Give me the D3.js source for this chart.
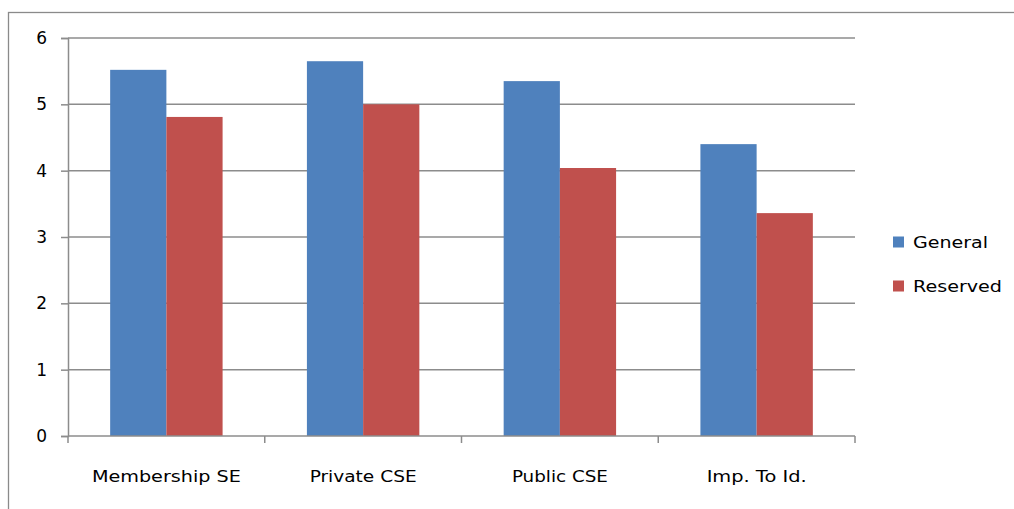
<!DOCTYPE html>
<html><head><meta charset="utf-8">
<script src="https://cdn.jsdelivr.net/npm/d3@7"></script>
<style>body{margin:0;background:#fff}svg{display:block}text{font-family:"DejaVu Sans",sans-serif;fill:#000}</style>
</head><body><svg id="c" width="1014" height="509"></svg>
<script>
const categories = ["Membership SE", "Private CSE", "Public CSE", "Imp. To Id."];
const seriesNames = ["General", "Reserved"];
const general = [5.52, 5.65, 5.35, 4.40];
const reserved = [4.81, 5.00, 4.04, 3.36];
const yTicks = [0, 1, 2, 3, 4, 5, 6];
const colors = ["#4F81BD", "#C0504D"];
const labelWidths = [149, 107, 96, 100];

const svg = d3.select("#c");
// outer frame
svg.append("rect").attr("x", 8.5).attr("y", 12.5).attr("width", 1020).attr("height", 520)
  .attr("fill", "none").attr("stroke", "#8a8a8a").attr("stroke-width", 1.3);

const L = 68, R = 855, T = 38, B = 436;
const x0 = d3.scaleBand().domain(categories).range([L, R]).paddingInner(0).paddingOuter(0);
const bw = x0.bandwidth();
const groupW = bw * 2 / 3.5;
const x1 = d3.scaleBand().domain(seriesNames).range([(bw - groupW) / 2, (bw + groupW) / 2]);
const y = d3.scaleLinear().domain([0, 6]).range([B, T]);

// gridlines
svg.append("g").selectAll("line").data(yTicks.filter(d => d > 0)).join("line")
  .attr("x1", L).attr("x2", R).attr("y1", d => y(d)).attr("y2", d => y(d))
  .attr("stroke", "#8c8c8c").attr("stroke-width", 1.5);

// bars
const data = categories.map((c, i) => ({c, vals: [general[i], reserved[i]]}));
const g = svg.append("g").selectAll("g").data(data).join("g")
  .attr("transform", d => `translate(${x0(d.c)},0)`);
g.selectAll("rect").data(d => d.vals.map((v, j) => ({s: seriesNames[j], v, j}))).join("rect")
  .attr("x", d => x1(d.s)).attr("width", x1.bandwidth())
  .attr("y", d => y(d.v)).attr("height", d => B - y(d.v))
  .attr("fill", d => colors[d.j]);

// y axis
const yAxis = d3.axisLeft(y).tickValues(yTicks).tickSize(7).tickPadding(14).tickFormat(d3.format("d"));
const ya = svg.append("g").attr("transform", `translate(${L},0)`).call(yAxis);
ya.select(".domain").attr("stroke", "#8c8c8c").attr("stroke-width", 1.5);
ya.selectAll(".tick line").attr("stroke", "#8c8c8c").attr("stroke-width", 1.5);
ya.selectAll(".tick text").attr("font-size", 17).attr("font-family", "DejaVu Sans").attr("fill", "#000");

// x axis
const xa = svg.append("g").attr("transform", `translate(0,${B})`);
xa.append("line").attr("x1", L).attr("x2", R).attr("stroke", "#8c8c8c").attr("stroke-width", 1.5);
const bounds = categories.map(c => x0(c)).concat([R]);
xa.selectAll("line.t").data(bounds).join("line").attr("class", "t")
  .attr("x1", d => d).attr("x2", d => d).attr("y1", 0).attr("y2", 7)
  .attr("stroke", "#8c8c8c").attr("stroke-width", 1.5);
xa.selectAll("text").data(categories).join("text")
  .attr("x", d => x0(d) + bw / 2).attr("y", 46).attr("text-anchor", "middle")
  .attr("font-size", 16)
  .attr("textLength", (d, i) => labelWidths[i]).attr("lengthAdjust", "spacingAndGlyphs")
  .text(d => d);

// legend
const lg = svg.append("g");
const legY = [242, 286];
const legW = [75, 89];
seriesNames.forEach((s, i) => {
  lg.append("rect").attr("x", 893).attr("y", legY[i] - 5.5).attr("width", 11).attr("height", 11).attr("fill", colors[i]);
  lg.append("text").attr("x", 913).attr("y", legY[i] + 6).attr("font-size", 16)
    .attr("textLength", legW[i]).attr("lengthAdjust", "spacingAndGlyphs").text(s);
});
</script></body></html>
